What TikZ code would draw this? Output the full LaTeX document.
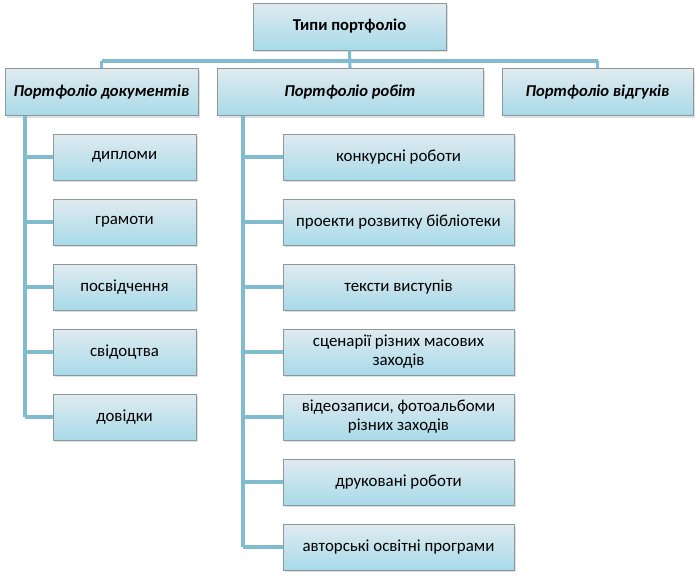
\documentclass[tikz,border=0pt]{standalone}
\usepackage{fontspec}
\setmainfont{Carlito}
\usepackage{xcolor}
\usepackage{tikz}
\usetikzlibrary{positioning,shadows,calc}

\definecolor{boxtop}{RGB}{224,235,240}
\definecolor{boxbot}{RGB}{168,218,233}
\definecolor{boxline}{RGB}{140,152,158}
\definecolor{lnkblue}{RGB}{128,188,208}

\begin{document}
\begin{tikzpicture}[
  bx/.style={draw=boxline, rectangle, top color=boxtop, bottom color=boxbot,
    drop shadow={opacity=0.25, shadow xshift=0.05cm, shadow yshift=-0.05cm},
    minimum height=1.15cm, align=center, inner sep=2pt,
    font=\fontsize{12}{13.5}\selectfont},
  head/.style={bx, minimum height=1.175cm, font=\fontsize{11.8}{14}\selectfont\bfseries},
  kind/.style={bx, minimum height=1.175cm, font=\fontsize{11.8}{14}\selectfont\bfseries\itshape},
  doc/.style={bx, minimum width=3.575cm},
  work/.style={bx, minimum width=5.775cm},
  lnk/.style={draw=lnkblue, line width=2.2pt}]
  \useasboundingbox (0,0) rectangle (17.5,-14.425);
  % Root
  \node[head, minimum width=4.825cm] (top) at (8.7375,-0.6625) {Типи портфоліо};
  % Kinds of portfolio
  \node[kind, minimum width=4.825cm] (docs)  at (2.5375,-2.3) {Портфоліо документів};
  \node[kind, minimum width=6.65cm]  (works) at (8.75,-2.3)   {Портфоліо робіт};
  \node[kind, minimum width=4.775cm] (revs)  at (14.9375,-2.3) {Портфоліо відгуків};
  % Documents
  \node[doc] (d1) at (3.1125,-3.925)  {дипломи};
  \node[doc] (d2) at (3.1125,-5.55)   {грамоти};
  \node[doc] (d3) at (3.1125,-7.175)  {посвідчення};
  \node[doc] (d4) at (3.1125,-8.8)    {свідоцтва};
  \node[doc] (d5) at (3.1125,-10.425) {довідки};
  % Works
  \node[work] (w1) at (9.9625,-3.925)  {конкурсні роботи};
  \node[work] (w2) at (9.9625,-5.55)   {проекти розвитку бібліотеки};
  \node[work] (w3) at (9.9625,-7.175)  {тексти виступів};
  \node[work] (w4) at (9.9625,-8.8)    {сценарії різних масових\\заходів};
  \node[work] (w5) at (9.9625,-10.425) {відеозаписи, фотоальбоми\\різних заходів};
  \node[work] (w6) at (9.9625,-12.05)  {друковані роботи};
  \node[work] (w7) at (9.9625,-13.675) {авторські освітні програми};
  % Connectors
  \coordinate (bar) at (0,-1.525);
  \coordinate (tl) at (0.625,0);
  \coordinate (tm) at (6.075,0);
  \draw[lnk] (top.south) -- (works.north);
  \draw[lnk] (docs.north |- bar) -- (revs.north |- bar);
  \draw[lnk] (docs.north |- bar) -- (docs.north);
  \draw[lnk] (revs.north |- bar) -- (revs.north);
  \draw[lnk] (tl |- docs.south) -- (tl |- d5);
  \draw[lnk] (tm |- works.south) -- (tm |- w7);
  \foreach \n in {d1,d2,d3,d4,d5}
    \draw[lnk] (tl |- \n) -- (\n.west);
  \foreach \n in {w1,w2,w3,w4,w5,w6,w7}
    \draw[lnk] (tm |- \n) -- (\n.west);
\end{tikzpicture}
\end{document}
